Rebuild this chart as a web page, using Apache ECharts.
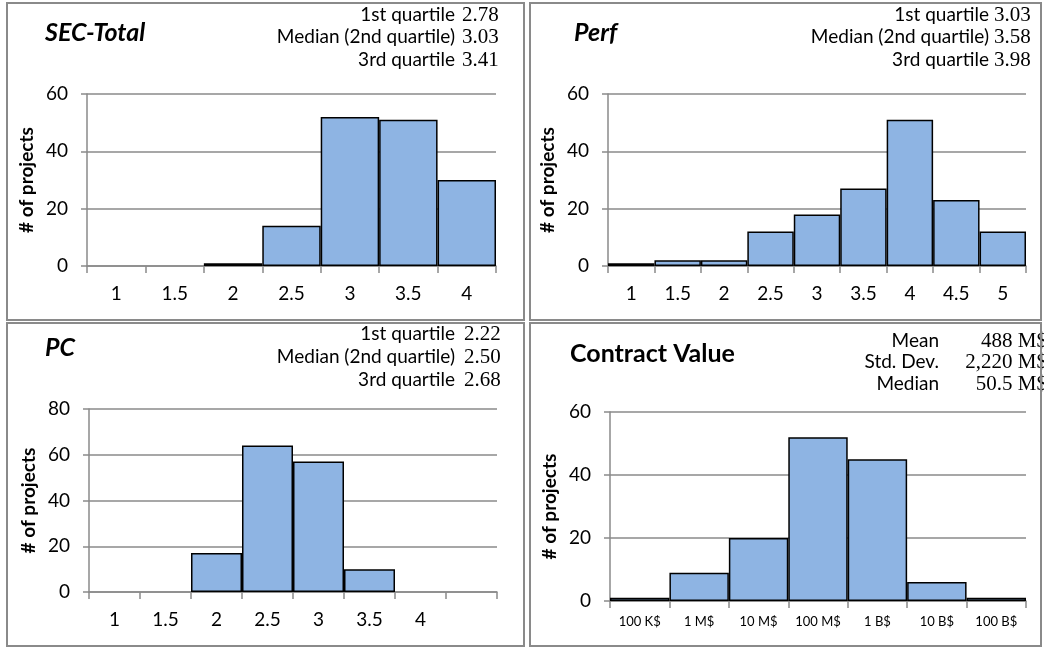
<!DOCTYPE html>
<html>
<head>
<meta charset="utf-8">
<script src="https://cdn.jsdelivr.net/npm/echarts@6/dist/echarts.min.js"></script>
<style>
html,body{margin:0;padding:0;background:#fff;}
#c{width:1044px;height:649px;}
</style>
</head>
<body>
<div id="c"></div>
<script>
// ---- data ----
const secCats = ['1', '1.5', '2', '2.5', '3', '3.5', '4'];
const secVals = [0, 0, 1, 14, 52, 51, 30];
const perfCats = ['1', '1.5', '2', '2.5', '3', '3.5', '4', '4.5', '5'];
const perfVals = [1, 2, 2, 12, 18, 27, 51, 23, 12];
const pcCats = ['1', '1.5', '2', '2.5', '3', '3.5', '4', ''];
const pcVals = [0, 0, 17, 64, 57, 10, 0, 0];
const cvCats = ['100 K$', '1 M$', '10 M$', '100 M$', '1 B$', '10 B$', '100 B$'];
const cvVals = [1, 9, 20, 52, 45, 6, 1];

const secStatLabels = ['1st quartile', 'Median (2nd quartile)', '3rd quartile'];
const secStatValues = ['2.78', '3.03', '3.41'];
const perfStatLabels = ['1st quartile', 'Median (2nd quartile)', '3rd quartile'];
const perfStatValues = ['3.03', '3.58', '3.98'];
const pcStatLabels = ['1st quartile', 'Median (2nd quartile)', '3rd quartile'];
const pcStatValues = ['2.22', '2.50', '2.68'];
const cvStatLabels = ['Mean', 'Std. Dev.', 'Median'];
const cvStatValues = ['488 M$', '2,220 M$', '50.5 M$'];

const yMaxes = [60, 60, 80, 60];

// ---- styles ----
const FONT = 'Lato, "Open Sans", sans-serif';
const SERIF = '"Liberation Serif", "DejaVu Serif", serif';
const GRAY = '#8a8a8a';
const BAR = '#8EB4E3';

const chart = echarts.init(document.getElementById('c'), null, {renderer: 'canvas'});

const grids = [
  {left: 87, top: 94, width: 409, height: 172},
  {left: 608, top: 94, width: 418, height: 172},
  {left: 89, top: 409, width: 408, height: 183},
  {left: 610, top: 412, width: 416, height: 189}
];
const catsList = [secCats, perfCats, pcCats, cvCats];
const valsList = [secVals, perfVals, pcVals, cvVals];

const xAxes = catsList.map((cats, i) => ({
  type: 'category', gridIndex: i, data: cats,
  axisLine: {lineStyle: {color: GRAY, width: 1.5}},
  axisTick: {show: true, length: 7, lineStyle: {color: GRAY, width: 1.5}},
  axisLabel: {color: '#000', fontFamily: FONT, fontSize: i === 3 ? 13 : 19, margin: i === 3 ? 14 : 18, interval: 0}
}));
const yAxes = yMaxes.map((mx, i) => ({
  type: 'value', gridIndex: i, min: 0, max: mx, interval: 20,
  name: '# of projects', nameLocation: 'middle', nameGap: 51,
  nameTextStyle: {color: '#000', fontFamily: FONT, fontSize: 19, fontWeight: 'bold'},
  axisLine: {show: true, lineStyle: {color: GRAY, width: 1.5}},
  axisTick: {show: true, length: 6, lineStyle: {color: GRAY, width: 1.5}},
  axisLabel: {color: '#000', fontFamily: FONT, fontSize: 19, margin: 19},
  splitLine: {lineStyle: {color: GRAY, width: 1.5}}
}));
const series = valsList.map((vals, i) => ({
  type: 'bar', xAxisIndex: i, yAxisIndex: i,
  data: vals.map(v => v === 0 ? '-' : v),
  barCategoryGap: '0%',
  itemStyle: {color: BAR, borderColor: '#000', borderWidth: 1.5},
  silent: true, animation: false
}));

function statTexts(labels, values, labelRight, valueX, ys, valueAlign) {
  const out = [];
  labels.forEach((t, k) => {
    out.push({type: 'text', x: labelRight, y: ys[k], style: {text: t, align: 'right', verticalAlign: 'middle', font: '19px ' + FONT, fill: '#000'}});
    out.push({type: 'text', x: valueX, y: ys[k], style: {text: values[k], align: valueAlign, verticalAlign: 'middle', font: '21px ' + SERIF, fill: '#000'}});
  });
  return out;
}

const borders = [
  [7, 3, 517, 317], [530, 3, 511, 317], [7, 323, 517, 323], [530, 323, 511, 323]
].map(r => ({type: 'rect', shape: {x: r[0], y: r[1], width: r[2], height: r[3]}, style: {fill: null, stroke: GRAY, lineWidth: 2}, z: 100, silent: true}));

const titles = [
  {text: 'SEC-Total', x: 45, y: 33, italic: true},
  {text: 'Perf', x: 574, y: 33, italic: true},
  {text: 'PC', x: 45, y: 348, italic: true},
  {text: 'Contract Value', x: 570, y: 354, italic: false}
].map(t => ({type: 'text', x: t.x, y: t.y, style: {text: t.text, align: 'left', verticalAlign: 'middle', font: (t.italic ? 'italic ' : '') + 'bold 25px ' + FONT, fill: '#000'}}));

const graphics = [].concat(
  titles,
  statTexts(secStatLabels, secStatValues, 455, 462, [15, 37, 60], 'left'),
  statTexts(perfStatLabels, perfStatValues, 989, 994, [15, 37, 60], 'left'),
  statTexts(pcStatLabels, pcStatValues, 455, 464, [334, 357, 380], 'left'),
  statTexts(cvStatLabels, cvStatValues, 939, 1047, [341, 362, 384], 'right'),
  borders
);

chart.setOption({
  animation: false,
  backgroundColor: '#fff',
  grid: grids,
  xAxis: xAxes,
  yAxis: yAxes,
  series: series,
  graphic: graphics
});
</script>
</body>
</html>
